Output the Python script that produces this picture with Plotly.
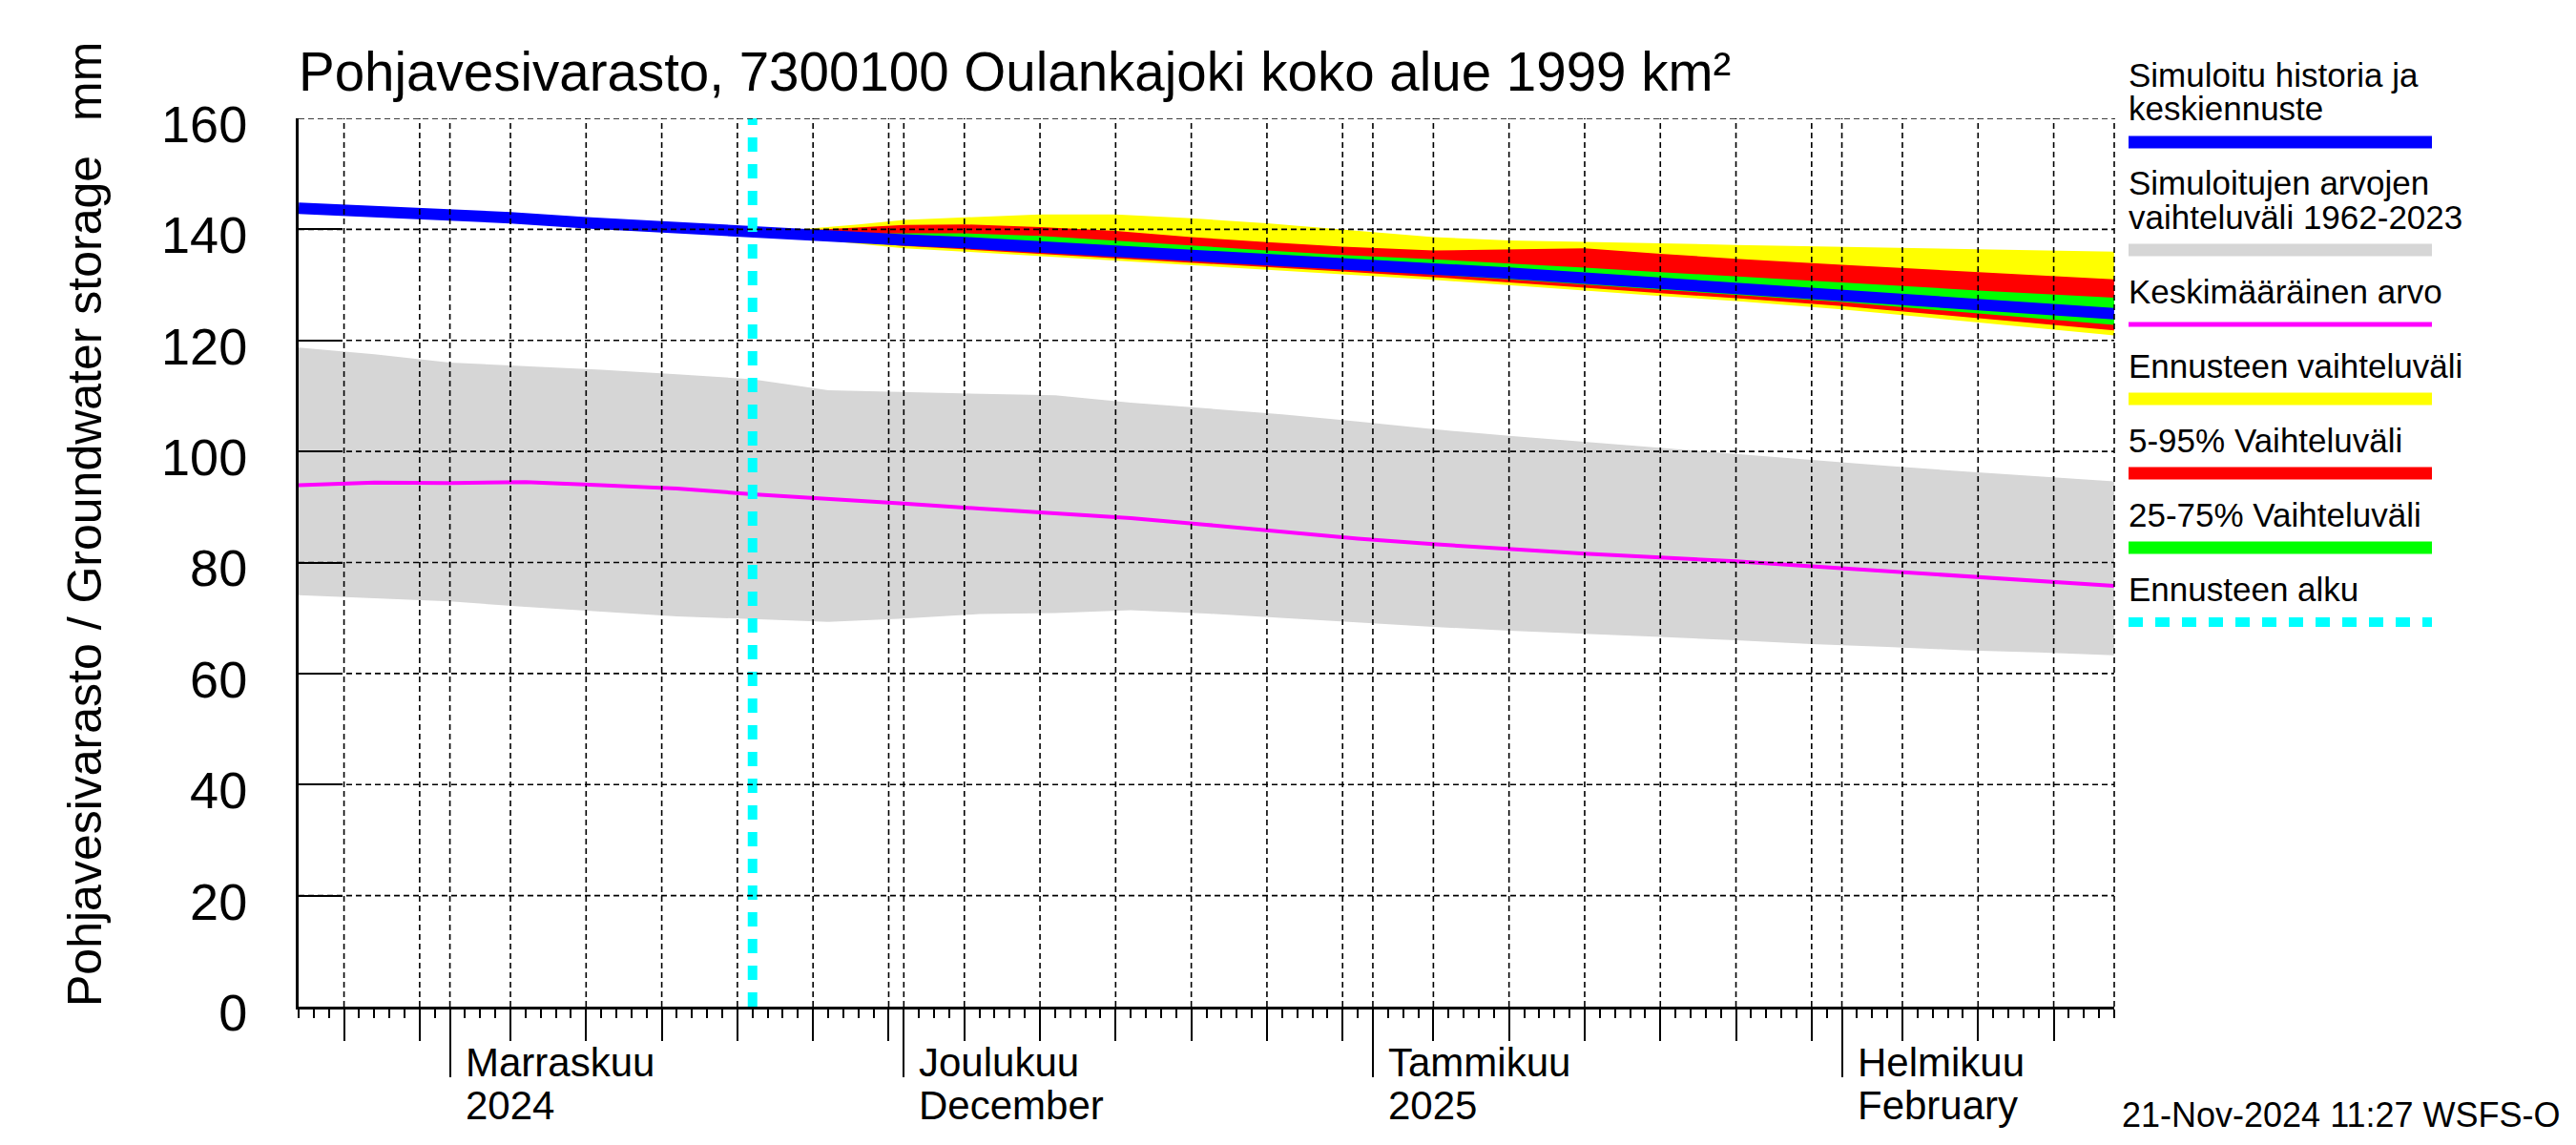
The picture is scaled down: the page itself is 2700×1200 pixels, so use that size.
import plotly.graph_objects as go
import pandas as pd

# ---------------- data ----------------
x_start = "2024-10-22"
x_end = "2025-02-19"
forecast_start = "2024-11-21"

hist_dates = ["2024-10-22", "2024-10-25", "2024-10-28", "2024-11-01", "2024-11-05",
              "2024-11-10", "2024-11-15", "2024-11-18", "2024-11-21"]
hist_vals = [143.8, 143.5, 143.2, 142.7, 142.1, 141.2, 140.4, 139.9, 139.3]

fc_dates = ["2024-11-21", "2024-11-25", "2024-11-28", "2024-12-01", "2024-12-05",
            "2024-12-10", "2024-12-15", "2024-12-20", "2024-12-25", "2024-12-30",
            "2025-01-05", "2025-01-10", "2025-01-15", "2025-01-20", "2025-01-25",
            "2025-02-01", "2025-02-10", "2025-02-19"]
fc_median = [139.3, 138.9, 138.5, 138.1, 137.6, 136.9, 136.2, 135.4, 134.7, 133.9,
             133.0, 132.1, 131.2, 130.3, 129.4, 128.1, 126.5, 124.8]
fc_max = [139.3, 140.2, 140.9, 141.7, 142.2, 142.7, 142.7, 142.0, 141.1, 140.0,
          138.6, 138.0, 137.8, 137.5, 137.2, 136.8, 136.4, 136.0]
fc_p95 = [139.3, 139.9, 140.4, 140.8, 140.9, 140.4, 139.7, 138.6, 137.7, 136.9,
          136.2, 136.4, 136.6, 135.6, 134.7, 133.6, 132.3, 131.0]
fc_p75 = [139.3, 139.2, 139.2, 139.3, 139.3, 138.8, 138.0, 137.1, 136.2, 135.4,
          134.6, 133.9, 133.1, 132.3, 131.5, 130.4, 129.0, 127.7]
fc_p25 = [139.3, 138.6, 138.0, 137.4, 136.8, 136.1, 135.4, 134.5, 133.7, 132.9,
          131.9, 131.0, 130.1, 129.2, 128.2, 126.9, 124.9, 122.8]
fc_p05 = [139.3, 138.4, 137.7, 137.0, 136.4, 135.6, 134.9, 134.0, 133.2, 132.4,
          131.4, 130.5, 129.5, 128.5, 127.6, 126.2, 124.0, 121.8]
fc_min = [139.3, 138.2, 137.4, 136.6, 136.0, 135.2, 134.4, 133.6, 132.7, 131.9,
          130.9, 130.0, 129.0, 128.0, 127.1, 125.6, 123.2, 120.9]

clim_dates = ["2024-10-22", "2024-10-27", "2024-11-01", "2024-11-06", "2024-11-11",
              "2024-11-16", "2024-11-21", "2024-11-26", "2024-12-01", "2024-12-06",
              "2024-12-11", "2024-12-16", "2024-12-21", "2024-12-26", "2024-12-31",
              "2025-01-05", "2025-01-10", "2025-01-15", "2025-01-20", "2025-01-25",
              "2025-01-30", "2025-02-04", "2025-02-09", "2025-02-14", "2025-02-19"]
clim_hi = [118.7, 117.5, 116.0, 115.4, 114.7, 113.9, 113.0, 111.0, 110.7, 110.5,
           110.1, 108.8, 107.7, 106.7, 105.4, 104.0, 102.8, 101.7, 100.6, 99.6,
           98.4, 97.4, 96.4, 95.5, 94.6]
clim_lo = [74.1, 73.6, 73.0, 72.0, 71.1, 70.3, 69.8, 69.3, 69.9, 70.7,
           70.9, 71.4, 70.8, 70.0, 69.1, 68.4, 67.7, 67.2, 66.6, 66.0,
           65.3, 64.8, 64.2, 63.8, 63.3]
clim_mean = [93.9, 94.4, 94.3, 94.5, 93.9, 93.3, 92.3, 91.5, 90.6, 89.7,
             88.9, 88.0, 86.8, 85.5, 84.3, 83.3, 82.4, 81.6, 80.9, 80.2,
             79.3, 78.4, 77.5, 76.6, 75.8]

month_starts = ["2024-11-01", "2024-12-01", "2025-01-01", "2025-02-01"]
month_line1 = ["Marraskuu", "Joulukuu", "Tammikuu", "Helmikuu"]
month_line2 = ["2024", "December", "2025", "February"]
grid_days = [5, 10, 15, 20, 25, 30]
y_ticks = [0, 20, 40, 60, 80, 100, 120, 140, 160]

title_text = "Pohjavesivarasto, 7300100 Oulankajoki koko alue 1999 km²"
ylabel_text = "Pohjavesivarasto / Groundwater storage"
yunit_text = "mm"
stamp_text = "21-Nov-2024 11:27 WSFS-O"

legend_items = [
    (["Simuloitu historia ja", "keskiennuste"], "#0000FF", 13, "solid"),
    (["Simuloitujen arvojen", "vaihteluväli 1962-2023"], "#D6D6D6", 13, "solid"),
    (["Keskimääräinen arvo"], "#FF00FF", 5, "solid"),
    (["Ennusteen vaihteluväli"], "#FFFF00", 13, "solid"),
    (["5-95% Vaihteluväli"], "#FF0000", 13, "solid"),
    (["25-75% Vaihteluväli"], "#00FF00", 13, "solid"),
    (["Ennusteen alku"], "#00FFFF", 10, "15px,13px"),
]

# ---------------- layout geometry (pixels) ----------------
W, H = 2700, 1200
PL, PR, PT, PB = 305, 2208, 116, 1047
FONT = "Liberation Sans, Arial, Helvetica, sans-serif"


def px_x(X):
    return (X - PL) / (PR - PL)


def px_y(Y):
    return (PB - Y) / (PB - PT)


# 5-day grid marks inside range
rng0, rng1 = pd.Timestamp(x_start), pd.Timestamp(x_end)
five_day = []
for m in pd.date_range("2024-10-01", "2025-02-01", freq="MS"):
    for d in grid_days:
        if d <= m.days_in_month:
            t = m.replace(day=d)
            if rng0 < t < rng1:
                five_day.append(t.strftime("%Y-%m-%d"))

fig = go.Figure()

# historical range (gray)
fig.add_trace(go.Scatter(x=clim_dates, y=clim_lo, mode="lines",
                         line=dict(width=0, color="#D6D6D6"), hoverinfo="skip"))
fig.add_trace(go.Scatter(x=clim_dates, y=clim_hi, mode="lines", fill="tonexty",
                         fillcolor="#D6D6D6", line=dict(width=0, color="#D6D6D6"),
                         hoverinfo="skip"))
# mean
fig.add_trace(go.Scatter(x=clim_dates, y=clim_mean, mode="lines",
                         line=dict(width=4, color="#FF00FF")))
# forecast bands
for lo, hi, col in [(fc_min, fc_max, "#FFFF00"), (fc_p05, fc_p95, "#FF0000"),
                    (fc_p25, fc_p75, "#00FF00")]:
    fig.add_trace(go.Scatter(x=fc_dates, y=lo, mode="lines",
                             line=dict(width=0, color=col), hoverinfo="skip"))
    fig.add_trace(go.Scatter(x=fc_dates, y=hi, mode="lines", fill="tonexty",
                             fillcolor=col, line=dict(width=0, color=col),
                             hoverinfo="skip"))
# simulated history + median forecast
fig.add_trace(go.Scatter(x=hist_dates + fc_dates[1:], y=hist_vals + fc_median[1:],
                         mode="lines", line=dict(width=12, color="#0000FF")))
# forecast start
fig.add_trace(go.Scatter(x=[forecast_start, forecast_start], y=[y_ticks[0], y_ticks[-1]],
                         mode="lines", xaxis="x2", yaxis="y",
                         line=dict(width=10, color="#00FFFF", dash="15px,13px")))

shapes = []
grid_line = dict(color="black", width=1.6, dash="6px,4px")
for d in month_starts + five_day:
    shapes.append(dict(type="line", xref="x", yref="paper", x0=d, x1=d, y0=0, y1=1,
                       line=grid_line, layer="above"))
for v in y_ticks[1:]:
    shapes.append(dict(type="line", xref="paper", yref="y", x0=0, x1=1, y0=v, y1=v,
                       line=grid_line, layer="above"))
shapes.append(dict(type="line", xref="paper", yref="paper", x0=1, x1=1, y0=0, y1=1,
                   line=grid_line, layer="above"))

annotations = []
annotations.append(dict(text=title_text, xref="paper", yref="paper", x=px_x(303), y=px_y(67),
                        xanchor="left", yanchor="middle", showarrow=False,
                        font=dict(size=56.5, family=FONT, color="black")))
annotations.append(dict(text=ylabel_text, xref="paper", yref="paper", x=px_x(81), y=px_y(601),
                        xanchor="center", yanchor="middle", showarrow=False, textangle=-90,
                        font=dict(size=50, family=FONT, color="black")))
annotations.append(dict(text=yunit_text, xref="paper", yref="paper", x=px_x(81), y=px_y(78),
                        xanchor="center", yanchor="middle", showarrow=False, textangle=-90,
                        font=dict(size=50, family=FONT, color="black")))
for d, l1, l2 in zip(month_starts, month_line1, month_line2):
    for txt, Y in [(l1, 1105), (l2, 1150)]:
        annotations.append(dict(text=txt, xref="x", yref="paper", x=d, y=px_y(Y), xshift=14,
                                xanchor="left", yanchor="middle", showarrow=False,
                                font=dict(size=42, family=FONT, color="black")))
annotations.append(dict(text=stamp_text, xref="paper", yref="paper", x=px_x(2214), y=px_y(1160),
                        xanchor="left", yanchor="middle", showarrow=False,
                        font=dict(size=36, family=FONT, color="black")))

# legend (drawn manually)
Ytext = 71
for lines, col, wid, dash in legend_items:
    for i, txt in enumerate(lines):
        annotations.append(dict(text=txt, xref="paper", yref="paper", x=px_x(2221),
                                y=px_y(Ytext + 35 * i), xanchor="left", yanchor="middle",
                                showarrow=False, font=dict(size=35, family=FONT, color="black")))
    Ybar = Ytext + 35 * len(lines)
    shapes.append(dict(type="line", xref="paper", yref="paper", x0=px_x(2223), x1=px_x(2541),
                       y0=px_y(Ybar), y1=px_y(Ybar),
                       line=dict(color=col, width=wid, dash=dash)))
    Ytext = Ybar + 43

fig.update_layout(
    width=W, height=H,
    margin=dict(l=PL, r=W - PR, t=PT, b=H - PB, pad=0),
    paper_bgcolor="white", plot_bgcolor="white",
    showlegend=False,
    font=dict(family=FONT, color="black"),
    xaxis=dict(type="date", range=[x_start, x_end], tickmode="array", tickvals=month_starts,
               ticks="outside", ticklen=71, tickwidth=1.5, tickcolor="black",
               showticklabels=False, showgrid=False, zeroline=False,
               showline=True, linewidth=3, linecolor="black",
               minor=dict(ticks="outside", ticklen=9, tickwidth=1.5, tickcolor="black",
                          dtick=86400000, tick0=x_start, showgrid=False)),
    xaxis2=dict(type="date", range=[x_start, x_end], overlaying="x", anchor="y", side="bottom",
                tickmode="array", tickvals=five_day, ticks="outside", ticklen=35,
                tickwidth=1.5, tickcolor="black", showticklabels=False, showgrid=False,
                zeroline=False, showline=False),
    yaxis=dict(range=[y_ticks[0], y_ticks[-1]], tickmode="array", tickvals=y_ticks,
               ticks="inside", ticklen=46, tickwidth=1.5, tickcolor="black",
               showgrid=False, zeroline=False, showline=True, linewidth=3, linecolor="black",
               tickfont=dict(size=54, family=FONT, color="black"),
               ticklabelstandoff=40, ticklabelshift=6),
    shapes=shapes,
    annotations=annotations,
)

fig.write_html("out.html")
